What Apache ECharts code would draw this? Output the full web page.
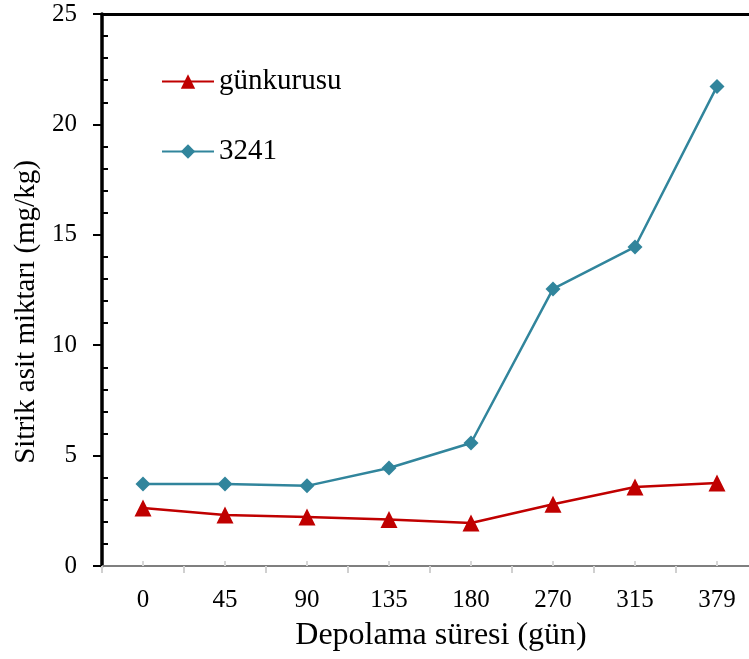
<!DOCTYPE html>
<html><head><meta charset="utf-8">
<script src="https://cdn.jsdelivr.net/npm/echarts@6/dist/echarts.min.js"></script>
<style>html,body{margin:0;padding:0;background:#fff}#c{width:749px;height:659px}</style>
</head><body><div id="c"></div>
<script>
const categories = ['0','45','90','135','180','270','315','379'];
const gunkurusu = [2.63, 2.31, 2.22, 2.11, 1.95, 2.8, 3.58, 3.76];
const s3241 = [3.71, 3.71, 3.63, 4.44, 5.57, 12.55, 14.45, 21.72];
const yTicks = [0, 5, 10, 15, 20, 25];
const minorTicks = [1,2,3,4,6,7,8,9,11,12,13,14,16,17,18,19,21,22,23,24];
const FONT = '"Liberation Serif", "Times New Roman", serif';
const chart = echarts.init(document.getElementById('c'));
chart.setOption({
  animation: false,
  textStyle: {fontFamily: FONT},
  grid: {left: 102, top: 14, height: 552, width: 656, containLabel: false, outerBoundsMode: 'none'},
  legend: {
    orient: 'vertical', left: 156, top: 62, itemGap: 41,
    itemWidth: 52, itemHeight: 18,
    textStyle: {fontFamily: FONT, fontSize: 29, color: '#000'},
    data: ['günkurusu', '3241']
  },
  xAxis: [
    {type: 'category', data: categories, position: 'bottom', boundaryGap: true,
     axisLine: {lineStyle: {color: '#7f7f7f', width: 2}},
     axisTick: {show: true, alignWithLabel: false, length: 7, lineStyle: {color: '#d0d0d0', width: 2}},
     axisLabel: {fontFamily: FONT, fontSize: 25, color: '#000', margin: 22},
     name: 'Depolama süresi (gün)', nameLocation: 'middle', nameGap: 54,
     nameTextStyle: {fontFamily: FONT, fontSize: 32, color: '#000', padding: [0, 0, 0, 22]}},
    {type: 'category', data: categories, position: 'bottom', boundaryGap: true,
     axisLine: {show: false},
     axisTick: {show: true, alignWithLabel: true, inside: true, length: 5, lineStyle: {color: '#d8d8d8', width: 2}},
     axisLabel: {show: false}},
    {type: 'category', data: categories, position: 'top',
     axisLine: {lineStyle: {color: '#000', width: 3}},
     axisTick: {show: false}, axisLabel: {show: false}}
  ],
  yAxis: [
    {type: 'value', min: 0, max: 25, interval: 5, position: 'left',
     axisLine: {show: true, lineStyle: {color: '#000', width: 3.5}},
     axisTick: {show: true, length: 9, lineStyle: {color: '#000', width: 2}},
     splitLine: {show: false},
     axisLabel: {fontFamily: FONT, fontSize: 25, color: '#000', margin: 25,
                 customValues: yTicks},
     name: 'Sitrik asit miktarı (mg/kg)', nameLocation: 'middle', nameGap: 60,
     nameTextStyle: {fontFamily: FONT, fontSize: 29, color: '#000', padding: [0, 44, 0, 0]}},
    {type: 'value', min: 0, max: 25, position: 'left',
     axisLine: {show: false},
     axisTick: {show: true, inside: true, length: 6, customValues: minorTicks,
                lineStyle: {color: '#000', width: 2}},
     axisLabel: {show: false}, splitLine: {show: false}}
  ],
  series: [
    {name: 'günkurusu', type: 'line', data: gunkurusu, xAxisIndex: 0, yAxisIndex: 0,
     symbol: 'triangle', symbolSize: 17,
     itemStyle: {color: '#C00000'}, lineStyle: {color: '#C00000', width: 2.5}},
    {name: '3241', type: 'line', data: s3241, xAxisIndex: 0, yAxisIndex: 0,
     symbol: 'diamond', symbolSize: 15,
     itemStyle: {color: '#31859C'}, lineStyle: {color: '#31859C', width: 2.5}}
  ]
});
</script></body></html>
